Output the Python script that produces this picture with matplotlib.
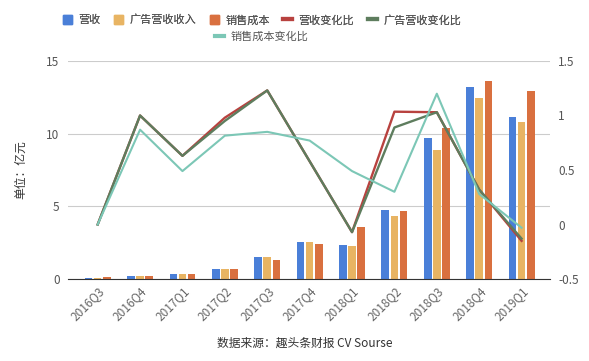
import numpy as np
import matplotlib.pyplot as plt
from matplotlib.lines import Line2D
from matplotlib.patches import Patch

plt.rcParams['font.family'] = ['Noto Sans CJK SC', 'DejaVu Sans']

quarters = ["2016Q3", "2016Q4", "2017Q1", "2017Q2", "2017Q3", "2017Q4",
            "2018Q1", "2018Q2", "2018Q3", "2018Q4", "2019Q1"]
revenue = [0.07, 0.22, 0.37, 0.71, 1.53, 2.52, 2.36, 4.77, 9.69, 13.2, 11.13]
ad_revenue = [0.05, 0.20, 0.37, 0.71, 1.53, 2.52, 2.29, 4.35, 8.89, 12.44, 10.81]
sales_cost = [0.12, 0.20, 0.36, 0.71, 1.33, 2.43, 3.60, 4.70, 10.38, 13.63, 12.94]
revenue_chg = [0.0, 1.0, 0.63, 0.98, 1.23, 0.58, -0.07, 1.035, 1.03, 0.32, -0.15]
ad_chg = [0.0, 1.0, 0.63, 0.95, 1.23, 0.58, -0.07, 0.89, 1.03, 0.32, -0.13]
cost_chg = [0.0, 0.87, 0.49, 0.815, 0.85, 0.77, 0.49, 0.30, 1.20, 0.28, -0.03]

c_blue = "#4a7fd8"
c_yellow = "#e8b463"
c_orange = "#d9703f"
c_red = "#b8423f"
c_green = "#5e7d5e"
c_teal = "#7cc7b6"

fig = plt.figure(figsize=(5.89, 3.61), dpi=100)
ax = fig.add_axes([68 / 589, 1 - 279 / 361, (550 - 68) / 589, (279 - 61) / 361])
x = np.arange(len(quarters))
w = 0.18
off = 0.215
ax.bar(x - off, revenue, w, color=c_blue, zorder=2)
ax.bar(x, ad_revenue, w, color=c_yellow, zorder=2)
ax.bar(x + off, sales_cost, w, color=c_orange, zorder=2)

ax.set_ylim(0, 15)
ax.set_yticks([0, 5, 10, 15])
ax.set_xlim(-0.7, 10.67)
ax.set_xticks(x)
ax.set_xticklabels(quarters, rotation=45, ha="right", rotation_mode="anchor",
                   fontsize=8.5, color="#666666")
ax.tick_params(axis="y", length=0, labelsize=8.5, labelcolor="#555555", pad=6)
ax.tick_params(axis="x", length=0, pad=4)
ax.grid(axis="y", color="#cccccc", linewidth=0.8, zorder=0)
for s in ["top", "right", "left"]:
    ax.spines[s].set_visible(False)
ax.spines["bottom"].set_color("#333333")
ax.spines["bottom"].set_zorder(4)
ax.set_ylabel("单位：亿元", fontsize=8.5, color="#333333", labelpad=14)

ax2 = ax.twinx()
ax2.plot(x, revenue_chg, color=c_red, linewidth=1.7, zorder=3)
ax2.plot(x, ad_chg, color=c_green, linewidth=1.7, zorder=4)
ax2.plot(x, cost_chg, color=c_teal, linewidth=1.5, zorder=5)
ax2.set_ylim(-0.5, 1.5)
ax2.set_yticks([-0.5, 0, 0.5, 1, 1.5])
ax2.set_yticklabels(["-0.5", "0", "0.5", "1", "1.5"])
ax2.tick_params(axis="y", length=0, labelsize=8.5, labelcolor="#555555", pad=6)
for s in ["top", "right", "left", "bottom"]:
    ax2.spines[s].set_visible(False)

handles1 = [Patch(color=c_blue), Patch(color=c_yellow), Patch(color=c_orange),
            Line2D([], [], color=c_red, linewidth=3),
            Line2D([], [], color=c_green, linewidth=3)]
labels1 = ["营收", "广告营收收入", "销售成本", "营收变化比", "广告营收变化比"]
leg1 = fig.legend(handles1, labels1, loc="center", bbox_to_anchor=(262 / 589, 1 - 20 / 361),
                  ncol=5, frameon=False, fontsize=8, handlelength=0.8, handleheight=0.8,
                  columnspacing=1.2, handletextpad=0.6, labelcolor="#555555")
fig.add_artist(leg1)
fig.legend([Line2D([], [], color=c_teal, linewidth=3)], ["销售成本变化比"], loc="center",
           bbox_to_anchor=(262 / 589, 1 - 37 / 361), frameon=False, fontsize=8,
           handlelength=0.8, handletextpad=0.6, labelcolor="#555555")

fig.text(0.518, 1 - 343 / 361, "数据来源：趣头条财报 CV Sourse", ha="center", va="center",
         fontsize=8.5, color="#333333")

fig.savefig("out.png", dpi=100)
